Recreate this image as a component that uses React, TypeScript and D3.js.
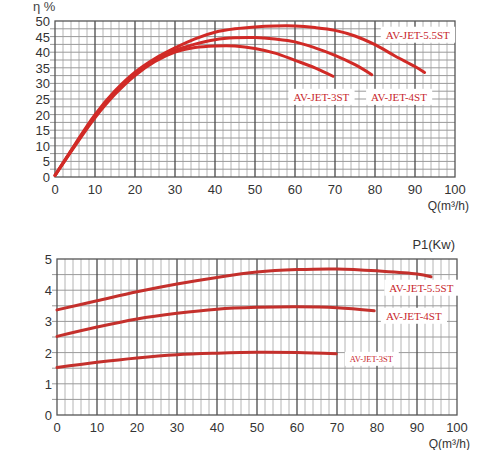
import { useEffect, useRef } from 'react';
import * as d3 from 'd3';

// flow axis, shared by both panels
const flowTicks = [0, 10, 20, 30, 40, 50, 60, 70, 80, 90, 100];
const effTicks = [0, 5, 10, 15, 20, 25, 30, 35, 40, 45, 50];
const powerTicks = [0, 1, 2, 3, 4, 5];

// efficiency curves [Q, eta %]
const eff3st: [number, number][] = [
  [0, 0.5], [5, 10], [10, 19], [15, 26.5], [20, 32.5], [25, 37], [30, 40],
  [35, 41.5], [40, 42], [45, 42], [50, 41.2], [55, 39.7], [60, 37.4], [65, 35], [69.5, 32.3]
];
const eff4st: [number, number][] = [
  [0, 0.5], [5, 10.2], [10, 19.5], [15, 27], [20, 33], [25, 37.5], [30, 40.6],
  [35, 42.6], [40, 44], [45, 44.6], [50, 44.7], [55, 44.2], [60, 43.3], [65, 41.4],
  [70, 39], [75, 36], [79.2, 32.8]
];
const eff55st: [number, number][] = [
  [0, 0.5], [5, 10.5], [10, 20], [15, 27.6], [20, 33.6], [25, 38], [30, 41.4],
  [35, 44.3], [40, 46.4], [45, 47.5], [50, 48.1], [55, 48.4], [60, 48.4], [65, 47.9],
  [70, 47], [75, 45.2], [80, 42.4], [85, 38.8], [90, 35.4], [92.4, 33.5]
];

// power curves [Q, P1 kW]
const pow3st: [number, number][] = [
  [0, 1.52], [10, 1.69], [20, 1.83], [30, 1.93], [40, 1.98], [50, 2.01], [60, 2.0], [69.8, 1.96]
];
const pow4st: [number, number][] = [
  [0, 2.52], [10, 2.82], [20, 3.08], [30, 3.26], [40, 3.39], [50, 3.45], [60, 3.47], [70, 3.44], [79.3, 3.34]
];
const pow55st: [number, number][] = [
  [0, 3.37], [10, 3.66], [20, 3.95], [30, 4.2], [40, 4.41], [50, 4.58], [60, 4.66],
  [70, 4.68], [80, 4.62], [90, 4.52], [93.5, 4.43]
];

const effLabels: { text: string; q: number; v: number }[] = [
  { text: 'AV-JET-5.5ST', q: 90.7, v: 45.6 },
  { text: 'AV-JET-3ST', q: 66.6, v: 25.7 },
  { text: 'AV-JET-4ST', q: 86, v: 25.7 }
];
const powLabels: { text: string; q: number; v: number }[] = [
  { text: 'AV-JET-5.5ST', q: 91.1, v: 4.08 },
  { text: 'AV-JET-4ST', q: 89.2, v: 3.18 },
  { text: 'AV-JET-3ST', q: 78.6, v: 1.8 }
];

const RED = '#d12a26';

function drawPanel(
  svg: d3.Selection<SVGSVGElement, unknown, null, undefined>,
  opts: {
    left: number; right: number; top: number; bottom: number;
    yMax: number; yStep: number; yTicks: number[];
    series: [number, number][][];
    labels: { text: string; q: number; v: number }[];
    labelSizes: number[];
    color: string;
  }
) {
  const x = d3.scaleLinear().domain([0, 100]).range([opts.left, opts.right]);
  const y = d3.scaleLinear().domain([0, opts.yMax]).range([opts.bottom, opts.top]);
  const g = svg.append('g');

  // minor vertical grid every 2
  const minorX = d3.range(2, 100, 2).filter(v => v % 10 !== 0);
  g.selectAll('line.vmin').data(minorX).enter().append('line')
    .attr('x1', d => x(d)).attr('x2', d => x(d))
    .attr('y1', opts.top).attr('y2', opts.bottom)
    .attr('stroke', '#b4b4b4').attr('stroke-width', 1);

  // horizontal grid (with small outside ticks)
  const hLines = d3.range(opts.yStep, opts.yMax, opts.yStep);
  g.selectAll('line.h').data(hLines).enter().append('line')
    .attr('x1', opts.left - 5).attr('x2', opts.right)
    .attr('y1', d => y(d)).attr('y2', d => y(d))
    .attr('stroke', '#9a9a9a').attr('stroke-width', 1);

  // major vertical grid
  g.selectAll('line.vmaj').data(flowTicks.slice(1, -1)).enter().append('line')
    .attr('x1', d => x(d)).attr('x2', d => x(d))
    .attr('y1', opts.top).attr('y2', opts.bottom)
    .attr('stroke', '#4a4a4a').attr('stroke-width', 1.3);

  // frame
  g.append('rect')
    .attr('x', opts.left).attr('y', opts.top)
    .attr('width', opts.right - opts.left).attr('height', opts.bottom - opts.top)
    .attr('fill', 'none').attr('stroke', '#555').attr('stroke-width', 1.3);

  // tick labels
  g.selectAll('text.xt').data(flowTicks).enter().append('text')
    .attr('x', d => x(d)).attr('y', opts.bottom + 17)
    .attr('text-anchor', 'middle')
    .attr('font-family', 'Liberation Sans, Arial, sans-serif')
    .attr('font-size', 13).attr('fill', '#333')
    .text(d => d);
  g.selectAll('text.yt').data(opts.yTicks).enter().append('text')
    .attr('x', opts.left - 5).attr('y', d => y(d) + 5)
    .attr('text-anchor', 'end')
    .attr('font-family', 'Liberation Sans, Arial, sans-serif')
    .attr('font-size', 13).attr('fill', '#333')
    .text(d => d);

  // curves
  const line = d3.line<[number, number]>()
    .x(d => x(d[0])).y(d => y(d[1]))
    .curve(d3.curveCatmullRom.alpha(0.5));
  g.selectAll('path.curve').data(opts.series).enter().append('path')
    .attr('d', d => line(d))
    .attr('fill', 'none').attr('stroke', opts.color)
    .attr('stroke-width', 3).attr('stroke-linecap', 'round');

  // series labels on white boxes
  opts.labels.forEach((lb, i) => {
    const t = g.append('text')
      .attr('x', x(lb.q)).attr('y', y(lb.v))
      .attr('text-anchor', 'middle').attr('dominant-baseline', 'central')
      .attr('font-family', 'Liberation Serif, Times New Roman, serif')
      .attr('font-size', opts.labelSizes[i]).attr('fill', '#c8272d')
      .text(lb.text);
    const bb = (t.node() as SVGTextElement).getBBox();
    g.insert('rect', () => t.node() as SVGTextElement)
      .attr('x', bb.x - 5).attr('y', bb.y - 2)
      .attr('width', bb.width + 10).attr('height', bb.height + 4)
      .attr('fill', 'white');
  });
}

export default function App() {
  const ref = useRef<SVGSVGElement>(null);

  useEffect(() => {
    if (!ref.current) return;
    const svg = d3.select(ref.current);
    svg.selectAll('*').remove();

    drawPanel(svg, {
      left: 55, right: 455, top: 21, bottom: 177,
      yMax: 50, yStep: 2.5, yTicks: effTicks,
      series: [eff3st, eff4st, eff55st],
      labels: effLabels, labelSizes: [11, 11, 11],
      color: RED
    });
    drawPanel(svg, {
      left: 57, right: 457, top: 259, bottom: 415,
      yMax: 5, yStep: 0.5, yTicks: powerTicks,
      series: [pow3st, pow4st, pow55st],
      labels: powLabels, labelSizes: [11, 11, 8.5],
      color: '#c4302c'
    });

    const font = 'Liberation Sans, Arial, sans-serif';
    svg.append('text').attr('x', 33).attr('y', 11)
      .attr('font-family', font).attr('font-size', 13).attr('fill', '#444')
      .text('η %');
    svg.append('text').attr('x', 469).attr('y', 210).attr('text-anchor', 'end')
      .attr('font-family', font).attr('font-size', 12).attr('fill', '#333')
      .text('Q(m³/h)');
    svg.append('text').attr('x', 455).attr('y', 249).attr('text-anchor', 'end')
      .attr('font-family', font).attr('font-size', 13).attr('fill', '#333')
      .text('P1(Kw)');
    svg.append('text').attr('x', 470).attr('y', 448).attr('text-anchor', 'end')
      .attr('font-family', font).attr('font-size', 12).attr('fill', '#333')
      .text('Q(m³/h)');
  }, []);

  return (
    <svg
      ref={ref}
      width={500}
      height={450}
      style={{ position: 'absolute', left: 0, top: 0, background: 'white' }}
    />
  );
}
